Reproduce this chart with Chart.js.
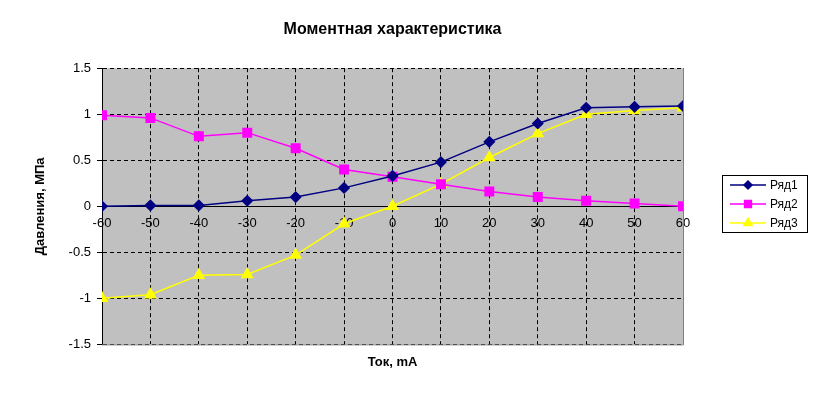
<!DOCTYPE html>
<html>
<head>
<meta charset="utf-8">
<script src="https://cdn.jsdelivr.net/npm/chart.js@4"></script>
<style>
  html, body { margin: 0; padding: 0; background: #fff; }
  #wrap { width: 823px; height: 396px; }
</style>
</head>
<body>
<div id="wrap"><canvas id="chart" width="823" height="396"></canvas></div>
<script>
// ===== Data =====
const currents = [-60, -50, -40, -30, -20, -10, 0, 10, 20, 30, 40, 50, 60];
const row1 = [0.0, 0.01, 0.01, 0.06, 0.1, 0.2, 0.33, 0.48, 0.7, 0.9, 1.07, 1.08, 1.09];
const row2 = [0.99, 0.96, 0.76, 0.8, 0.63, 0.4, 0.32, 0.24, 0.16, 0.1, 0.06, 0.03, 0.0];
const row3 = [-1.0, -0.96, -0.75, -0.74, -0.53, -0.19, 0.0, 0.24, 0.53, 0.79, 1.0, 1.04, 1.07];
const seriesNames = ["Ряд1", "Ряд2", "Ряд3"];

const FONT = "'Liberation Sans', Arial, sans-serif";

function toPoints(vals) {
  return currents.map((x, i) => ({ x, y: vals[i] }));
}

// ===== Plugins =====
const plotBackground = {
  id: "plotBackground",
  beforeDraw(chart) {
    const { ctx, chartArea: a } = chart;
    ctx.save();
    ctx.fillStyle = "#c0c0c0";
    ctx.fillRect(a.left, a.top, a.right - a.left, a.bottom - a.top);
    ctx.restore();
  },
  afterDatasetsDraw(chart) {
    // grey frame on right/bottom like the original plot area
    const { ctx, chartArea: a } = chart;
    ctx.save();
    ctx.strokeStyle = "#808080";
    ctx.lineWidth = 1;
    ctx.beginPath();
    ctx.moveTo(a.right + 0.5, a.top);
    ctx.lineTo(a.right + 0.5, a.bottom + 0.5);
    ctx.lineTo(a.left, a.bottom + 0.5);
    ctx.stroke();
    ctx.restore();
  }
};

const boxLegend = {
  id: "boxLegend",
  afterDraw(chart) {
    const { ctx } = chart;
    const ds = chart.data.datasets;
    const x0 = chart.width - 101, y0 = 175, w = 85, h = 57;
    ctx.save();
    ctx.fillStyle = "#fff";
    ctx.fillRect(x0, y0, w, h);
    ctx.strokeStyle = "#000";
    ctx.lineWidth = 1;
    ctx.strokeRect(x0 + 0.5, y0 + 0.5, w, h);
    ctx.font = "12px " + FONT;
    ctx.textBaseline = "middle";
    ds.forEach((d, i) => {
      const y = y0 + 10 + i * 19;
      ctx.strokeStyle = d.borderColor;
      ctx.lineWidth = 1.5;
      ctx.beginPath();
      ctx.moveTo(x0 + 8, y);
      ctx.lineTo(x0 + 44, y);
      ctx.stroke();
      ctx.fillStyle = d.pointBackgroundColor;
      Chart.helpers.drawPoint(ctx, {
        pointStyle: d.pointStyle,
        radius: d.pointRadius * 0.8,
        rotation: 0,
        borderWidth: 1
      }, x0 + 26, y);
      ctx.fillStyle = "#000";
      ctx.fillText(d.label, x0 + 48, y + 1);
    });
    ctx.restore();
  }
};

// ===== Chart =====
new Chart(document.getElementById("chart"), {
  type: "line",
  data: {
    datasets: [
      {
        label: seriesNames[0], data: toPoints(row1),
        borderColor: "#000080", backgroundColor: "#000080", pointBackgroundColor: "#000080",
        pointStyle: "rectRot", pointRadius: 5, borderWidth: 1.5
      },
      {
        label: seriesNames[1], data: toPoints(row2),
        borderColor: "#ff00ff", backgroundColor: "#ff00ff", pointBackgroundColor: "#ff00ff",
        pointStyle: "rect", pointRadius: 6, borderWidth: 1.5
      },
      {
        label: seriesNames[2], data: toPoints(row3),
        borderColor: "#ffff00", backgroundColor: "#ffff00", pointBackgroundColor: "#ffff00",
        pointStyle: "triangle", pointRadius: 6, borderWidth: 1.5
      }
    ]
  },
  options: {
    responsive: false,
    animation: false,
    layout: { padding: { left: 33, right: 140, top: 8, bottom: 26 } },
    plugins: {
      legend: { display: false },
      tooltip: { enabled: false },
      title: {
        display: true,
        fullSize: false,
        text: "Моментная характеристика",
        color: "#000",
        font: { family: FONT, size: 16, weight: "bold" },
        padding: { top: 12, bottom: 29 }
      }
    },
    scales: {
      x: {
        type: "linear",
        min: -60, max: 60,
        position: "bottom",
        ticks: { display: false, stepSize: 10 },
        grid: { color: "#000", lineWidth: 1, drawTicks: false },
        border: { display: false, dash: [4, 3] },
        title: {
          display: true, text: "Ток, mA", color: "#000",
          font: { family: FONT, size: 13, weight: "bold" },
          padding: { top: 10, bottom: 0 }
        }
      },
      x2: {
        type: "linear",
        axis: "x",
        min: -60, max: 60,
        position: { y: 0 },
        grid: { display: false, drawOnChartArea: false, tickLength: 4, tickColor: "#000" },
        border: { display: true, color: "#000", width: 1 },
        ticks: {
          stepSize: 10, autoSkip: false, maxRotation: 0, color: "#000",
          font: { family: FONT, size: 13 }, padding: 5
        }
      },
      y: {
        min: -1.5, max: 1.5,
        ticks: {
          stepSize: 0.5, color: "#000",
          font: { family: FONT, size: 13 }, padding: 6,
          callback: v => String(v)
        },
        grid: { color: "#000", lineWidth: 1, tickLength: 5, tickColor: "#000", tickBorderDash: [] },
        border: { display: true, color: "#000", width: 1, dash: [4, 3] },
        title: {
          display: true, text: "Давления, МПа", color: "#000",
          font: { family: FONT, size: 13, weight: "bold" },
          padding: { top: 0, bottom: 14 }
        }
      }
    }
  },
  plugins: [plotBackground, boxLegend]
});
</script>
</body>
</html>
